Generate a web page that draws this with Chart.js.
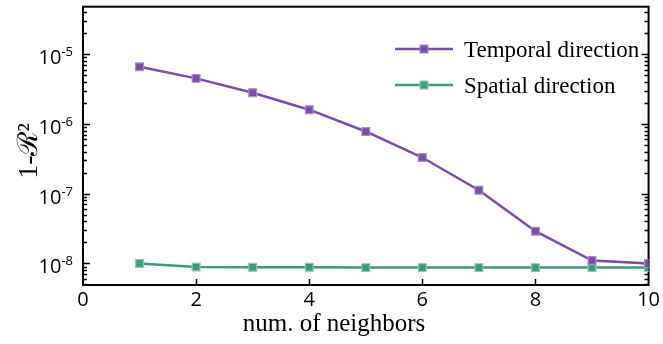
<!DOCTYPE html>
<html>
<head>
<meta charset="utf-8">
<script src="https://cdn.jsdelivr.net/npm/chart.js@4/dist/chart.umd.min.js"></script>
<style>
  html, body { margin: 0; padding: 0; background: #fff; }
  #wrap { width: 663px; height: 344px; }
</style>
</head>
<body>
<div id="wrap"><canvas id="myChart"></canvas></div>
<script>
// data
const neighbors = [1, 2, 3, 4, 5, 6, 7, 8, 9, 10];
const temporal = [6.6e-6, 4.5e-6, 2.8e-6, 1.6e-6, 7.8e-7, 3.3e-7, 1.12e-7, 2.9e-8, 1.1e-8, 1.0e-8];
const spatial = [1.0e-8, 8.9e-9, 8.8e-9, 8.8e-9, 8.7e-9, 8.7e-9, 8.7e-9, 8.7e-9, 8.7e-9, 8.7e-9];
const xTicks = [0, 2, 4, 6, 8, 10];
const yTicks = [1e-8, 1e-7, 1e-6, 1e-5];
const yExponents = ['-8', '-7', '-6', '-5'];
const seriesNames = ['Temporal direction', 'Spatial direction'];

const purple = '#7A4DA8';
const green = '#3A9C78';

const frame = {
    id: 'frame',
    beforeDatasetsDraw(chart) {
        const {ctx, chartArea: a, scales: {x, y}} = chart;
        ctx.save();
        ctx.strokeStyle = '#000';
        ctx.lineWidth = 1.5;
        // minor + major log ticks, left and right, pointing inward
        for (let d = -9; d <= -4; d++) {
            for (let m = 1; m <= 9; m++) {
                const v = m * Math.pow(10, d);
                if (v < y.min || v > y.max) continue;
                const p = Math.round(y.getPixelForValue(v)) + 0.5;
                const len = m === 1 ? 7 : 4;
                ctx.beginPath();
                ctx.moveTo(a.left, p); ctx.lineTo(a.left + len, p);
                ctx.moveTo(a.right, p); ctx.lineTo(a.right - len, p);
                ctx.stroke();
            }
        }
        xTicks.forEach(v => {
            if (v <= x.min || v >= x.max) return;
            const p = Math.round(x.getPixelForValue(v)) + 0.5;
            ctx.beginPath();
            ctx.moveTo(p, a.bottom); ctx.lineTo(p, a.bottom - 6);
            ctx.stroke();
        });
        ctx.lineWidth = 2;
        ctx.strokeRect(a.left, a.top, a.right - a.left, a.bottom - a.top);
        ctx.restore();
    },
    afterDraw(chart) {
        const {ctx, chartArea: a, scales: {y}} = chart;
        ctx.save();
        ctx.fillStyle = '#000';
        // y tick labels 10^n
        ctx.textAlign = 'left';
        ctx.textBaseline = 'alphabetic';
        yTicks.forEach((v, i) => {
            const p = y.getPixelForValue(v);
            ctx.font = '13px "Open Sans"';
            const w2 = ctx.measureText(yExponents[i]).width;
            ctx.font = '20px "Open Sans"';
            const w1 = ctx.measureText('10').width;
            const right = a.left - 10;
            ctx.fillText('10', right - w2 - w1, p + 10);
            ctx.font = '13px "Open Sans"';
            ctx.fillText(yExponents[i], right - w2, p + 2);
        });
        // axis titles
        ctx.font = '25px "Liberation Serif"';
        ctx.textAlign = 'center';
        ctx.fillText('num. of neighbors', 334, 331);
        ctx.save();
        ctx.translate(37, 151);
        ctx.rotate(-Math.PI / 2);
        ctx.font = '28px "Liberation Serif"';
        ctx.textBaseline = 'alphabetic';
        ctx.fillText('1-\u211B\u00B2', 0, 0);
        ctx.restore();
        // legend
        chart.data.datasets.forEach((ds, i) => {
            const ly = 49 + i * 36;
            ctx.strokeStyle = ds.borderColor;
            ctx.lineWidth = 2.5;
            ctx.beginPath();
            ctx.moveTo(395, ly); ctx.lineTo(453, ly);
            ctx.stroke();
            ctx.fillStyle = ds.borderColor;
            ctx.fillRect(420, ly - 4, 8, 8);
            ctx.strokeStyle = ds.pointBorderColor;
            ctx.lineWidth = 1;
            ctx.strokeRect(420, ly - 4, 8, 8);
            ctx.fillStyle = '#000';
            ctx.font = '23px "Liberation Serif"';
            ctx.textAlign = 'left';
            ctx.fillText(ds.label, 464, ly + 8);
        });
        ctx.restore();
    }
};

const ctx = document.getElementById('myChart');
const myChart = new Chart(ctx, {
    type: 'line',
    data: {
        labels: neighbors,
        datasets: [
            {
                label: seriesNames[0],
                data: neighbors.map((n, i) => ({x: n, y: temporal[i]})),
                borderColor: purple,
                backgroundColor: purple,
                pointBackgroundColor: purple,
                pointBorderColor: '#A88CCB',
                pointBorderWidth: 1.2,
                pointStyle: 'rect',
                pointRadius: 5.5,
                borderWidth: 2.5,
            },
            {
                label: seriesNames[1],
                data: neighbors.map((n, i) => ({x: n, y: spatial[i]})),
                borderColor: green,
                backgroundColor: green,
                pointBackgroundColor: green,
                pointBorderColor: '#86CBB0',
                pointBorderWidth: 1.2,
                pointStyle: 'rect',
                pointRadius: 5.5,
                borderWidth: 2.5,
            }
        ],
    },
    options: {
        responsive: true,
        maintainAspectRatio: false,
        animation: false,
        layout: {padding: {top: 3, right: 13, left: 0, bottom: 0}},
        plugins: {legend: {display: false}, tooltip: {enabled: false}},
        scales: {
            x: {
                type: 'linear',
                min: 0,
                max: 10,
                afterBuildTicks: s => { s.ticks = xTicks.map(v => ({value: v})); },
                afterFit: s => { s.height = 59; },
                grid: {display: false, drawTicks: false},
                border: {display: false},
                ticks: {
                    color: '#000',
                    padding: 3,
                    maxRotation: 0,
                    font: {family: 'Open Sans', size: 20},
                },
            },
            y: {
                type: 'logarithmic',
                min: 4.9e-9,
                max: 4.8e-5,
                afterBuildTicks: s => { s.ticks = yTicks.map(v => ({value: v})); },
                afterFit: s => { s.width = 83; },
                grid: {display: false, drawTicks: false},
                border: {display: false},
                ticks: {display: false},
            }
        }
    },
    plugins: [frame]
});
</script>
</body>
</html>
